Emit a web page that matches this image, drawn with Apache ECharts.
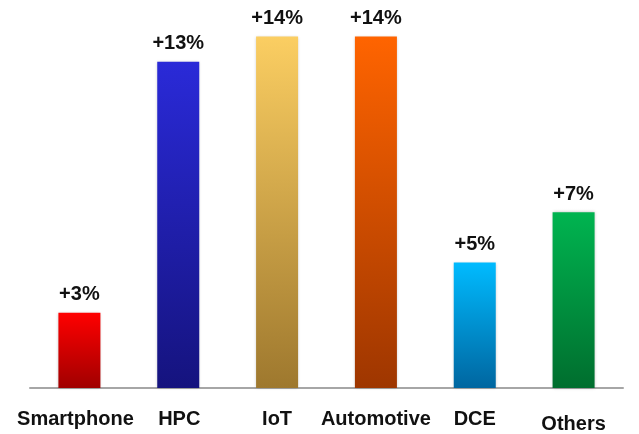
<!DOCTYPE html>
<html>
<head>
<meta charset="utf-8">
<script src="https://cdn.jsdelivr.net/npm/echarts@6/dist/echarts.min.js"></script>
<style>
  html, body { margin: 0; padding: 0; background: #ffffff; }
  #chart { width: 639px; height: 434px; }
</style>
</head>
<body>
<div id="chart"></div>
<script>
// Growth by application segment (%)
const categories = ['Smartphone', 'HPC', 'IoT', 'Automotive', 'DCE', 'Others'];
const growth = [3, 13, 14, 14, 5, 7];
// Vertical gradient per bar: [top colour, bottom colour]
const barColors = [
  ['#ff0000', '#a00000'],
  ['#2a2ad8', '#15137e'],
  ['#fbce62', '#9e782e'],
  ['#ff6400', '#9e3600'],
  ['#00bbff', '#0066a0'],
  ['#00b450', '#006e2e']
];
// Small per-label nudges [top, right, bottom, left]
const labelPadding = [[0, 8, 0, 0], [0, 0, 0, 2], [0, 0, 0, 0], [0, 0, 0, 0], [0, 0, 0, 0], [5, 0, 0, 0]];

const chart = echarts.init(document.getElementById('chart'), null, { renderer: 'canvas' });

const data = growth.map((v, i) => ({
  value: v,
  itemStyle: {
    color: new echarts.graphic.LinearGradient(0, 0, 0, 1, [
      { offset: 0, color: barColors[i][0] },
      { offset: 1, color: barColors[i][1] }
    ]),
    shadowColor: 'rgba(0,0,0,0.25)',
    shadowBlur: 3
  }
}));

chart.setOption({
  animation: false,
  backgroundColor: '#ffffff',
  grid: { left: 30, right: 16, top: 11.5, bottom: 46 },
  xAxis: {
    type: 'category',
    data: categories.map((c, i) => ({ value: c, textStyle: { padding: labelPadding[i] } })),
    axisLine: { show: true, lineStyle: { color: '#a6a6a6', width: 2 } },
    axisTick: { show: false },
    axisLabel: {
      margin: 21,
      color: '#111111',
      fontFamily: 'Liberation Sans, Arial, sans-serif',
      fontWeight: 'bold',
      fontSize: 20,
      interval: 0
    }
  },
  yAxis: {
    type: 'value',
    min: 0,
    max: 15,
    show: false,
    splitLine: { show: false }
  },
  series: [{
    type: 'bar',
    data: data,
    barWidth: 42,
    label: {
      show: true,
      position: 'top',
      distance: 8,
      formatter: p => '+' + p.value + '%',
      color: '#111111',
      fontFamily: 'Liberation Sans, Arial, sans-serif',
      fontWeight: 'bold',
      fontSize: 20
    }
  }]
});
</script>
</body>
</html>
